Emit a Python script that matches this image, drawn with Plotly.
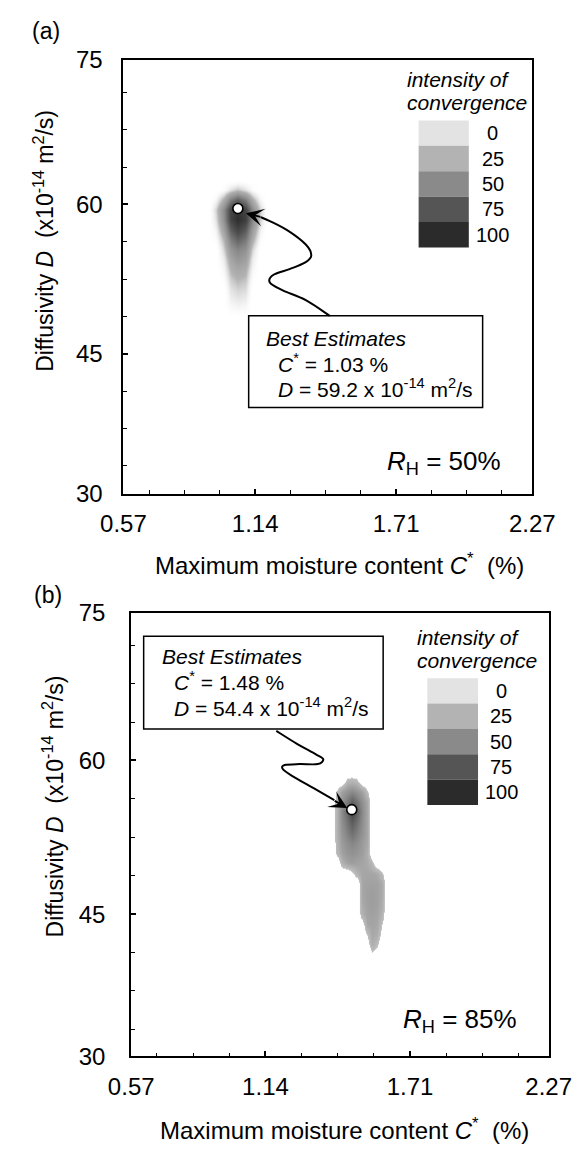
import plotly.graph_objects as go

W, H = 583, 1157
FONT = "Liberation Sans, Arial, sans-serif"

# ------------------------------------------------------------------ data
PANEL_LABELS = ["(a)", "(b)"]
HUMIDITY = ["50%", "85%"]
BEST_C = ["1.03", "1.48"]          # annotated best estimates (%)
BEST_D = ["59.2", "54.4"]          # annotated best estimates (x10^-14 m2/s)
MARKER_C = [1.07, 1.48]            # best-estimate point as drawn
MARKER_D = [59.6, 55.2]

X_TICK_TEXT = ["0.57", "1.14", "1.71", "2.27"]
X_TICK_INNER = [1.14, 1.71]
Y_TICK_TEXT = ["30", "45", "60", "75"]
Y_TICK_INNER = [45, 60]

LEGEND_LEVELS = ["0", "25", "50", "75", "100"]
LEGEND_COLORS = ["#e3e3e3", "#b3b3b3", "#8a8a8a", "#555555", "#2b2b2b"]

# intensity of convergence, panel (a) (rows listed top -> bottom)
BLOB_A_C = [0.95, 0.98, 1.01, 1.04, 1.07, 1.10, 1.13, 1.16, 1.19]
BLOB_A_D = [62.5, 61.5, 60.5, 59.5, 58.5, 57.5, 56.5, 55.5, 54.5, 53.5,
            52.5, 51.5, 50.5, 49.5, 48.5]
BLOB_A_Z = [
    [0, 0, 0, 0, 0, 0, 0, 0, 0],
    [0, 0, 5, 15, 22, 15, 5, 0, 0],
    [0, 8, 28, 55, 70, 55, 28, 8, 0],
    [0, 18, 48, 85, 95, 85, 48, 18, 0],
    [0, 15, 45, 85, 98, 88, 50, 18, 0],
    [0, 10, 35, 70, 85, 72, 38, 10, 0],
    [0, 5, 25, 55, 68, 58, 28, 5, 0],
    [0, 0, 18, 42, 52, 45, 18, 0, 0],
    [0, 0, 12, 33, 42, 36, 12, 0, 0],
    [0, 0, 8, 26, 32, 28, 8, 0, 0],
    [0, 0, 4, 20, 25, 22, 4, 0, 0],
    [0, 0, 0, 15, 19, 17, 0, 0, 0],
    [0, 0, 0, 11, 14, 12, 0, 0, 0],
    [0, 0, 0, 6, 8, 7, 0, 0, 0],
    [0, 0, 0, 0, 0, 0, 0, 0, 0],
]

# intensity of convergence, panel (b) (rows listed top -> bottom)
BLOB_B_C = [1.40, 1.42, 1.44, 1.46, 1.48, 1.50, 1.52, 1.54, 1.56, 1.58,
            1.60, 1.62, 1.64]
BLOB_B_D = [59, 58, 57, 56, 55, 54, 53, 52, 51, 50, 49, 48, 47, 46, 45,
            44, 43, 42, 41, 40]
BLOB_B_Z = [
    [0, 0, 0, 0, 0, 0, 0, 0, 0, 0, 0, 0, 0],
    [0, 0, 0, 20, 22, 18, 0, 0, 0, 0, 0, 0, 0],
    [0, 18, 36, 44, 50, 44, 36, 18, 0, 0, 0, 0, 0],
    [0, 25, 46, 58, 70, 60, 46, 32, 0, 0, 0, 0, 0],
    [0, 26, 50, 66, 85, 70, 50, 33, 0, 0, 0, 0, 0],
    [0, 26, 48, 60, 72, 62, 48, 33, 0, 0, 0, 0, 0],
    [0, 26, 44, 54, 62, 55, 45, 33, 0, 0, 0, 0, 0],
    [0, 25, 40, 47, 52, 48, 40, 32, 0, 0, 0, 0, 0],
    [0, 22, 36, 42, 45, 42, 38, 28, 0, 0, 0, 0, 0],
    [0, 0, 26, 35, 38, 36, 34, 30, 20, 0, 0, 0, 0],
    [0, 0, 0, 0, 10, 25, 32, 33, 33, 30, 18, 0, 0],
    [0, 0, 0, 0, 0, 0, 32, 35, 36, 35, 30, 0, 0],
    [0, 0, 0, 0, 0, 0, 32, 36, 38, 36, 30, 0, 0],
    [0, 0, 0, 0, 0, 0, 30, 36, 38, 36, 28, 0, 0],
    [0, 0, 0, 0, 0, 0, 25, 34, 36, 34, 24, 0, 0],
    [0, 0, 0, 0, 0, 0, 5, 32, 34, 32, 15, 0, 0],
    [0, 0, 0, 0, 0, 0, 0, 16, 32, 28, 8, 0, 0],
    [0, 0, 0, 0, 0, 0, 0, 5, 28, 18, 0, 0, 0],
    [0, 0, 0, 0, 0, 0, 0, 0, 10, 6, 0, 0, 0],
    [0, 0, 0, 0, 0, 0, 0, 0, 0, 0, 0, 0, 0],
]

# ------------------------------------------------------------------ layout helpers
def px(x):
    return x / W


def py(y):
    return 1 - y / H


# plot boxes in pixels: left, right, top, bottom
BOX = [(109, 553, 47, 491), (117.5, 570.7, 613, 1067)]
X_RANGE = [[0.607, 2.261], [0.611, 2.256]]
Y_RANGE = [[30.98, 74.51], [31.14, 74.43]]

CS_SOFT = [[0, "rgba(255,255,255,0)"], [0.25, "#b3b3b3"], [0.5, "#8a8a8a"],
           [0.75, "#555555"], [1, "#2b2b2b"]]
CS_HARD = [[0, "rgba(255,255,255,0)"], [0.15, "rgba(255,255,255,0)"],
           [0.1501, "#c0c0c0"], [0.25, "#b3b3b3"], [0.5, "#8a8a8a"],
           [0.75, "#555555"], [1, "#2b2b2b"]]

fig = go.Figure()

blobs = [(BLOB_A_C, BLOB_A_D, BLOB_A_Z, CS_SOFT), (BLOB_B_C, BLOB_B_D, BLOB_B_Z, CS_HARD)]
for i, (bc, bd, bz, cs) in enumerate(blobs):
    ax = "x" if i == 0 else "x2"
    ay = "y" if i == 0 else "y2"
    fig.add_trace(go.Heatmap(
        x=bc, y=bd[::-1], z=bz[::-1], zmin=0, zmax=100, zsmooth="best",
        colorscale=cs, showscale=False, hoverinfo="skip", xaxis=ax, yaxis=ay))
    fig.add_trace(go.Scatter(
        x=[MARKER_C[i]], y=[MARKER_D[i]], mode="markers", xaxis=ax, yaxis=ay,
        marker=dict(size=10, color="white", line=dict(color="black", width=1.6)),
        hoverinfo="skip", showlegend=False))


def axis_common():
    return dict(showline=True, linecolor="black", linewidth=2, mirror=True,
                ticks="inside", ticklen=5, tickwidth=1.5, tickcolor="black",
                showgrid=False, zeroline=False,
                tickfont=dict(family=FONT, size=24, color="black"),
                tickmode="array")


layout_axes = {}
for i in range(2):
    l, r, t, b = BOX[i]
    xr, yr = X_RANGE[i], Y_RANGE[i]
    xminor = [X_TICK_INNER[0] + k * 0.1425 for k in range(-3, 8) if k % 4 != 0]
    yminor = [Y_TICK_INNER[0] + k * 3.75 for k in range(-3, 8) if k % 4 != 0]
    xa = axis_common()
    xa.update(domain=[px(l), px(r)], range=xr,
              tickvals=[xr[0]] + X_TICK_INNER + [xr[1]], ticktext=X_TICK_TEXT,
              minor=dict(ticks="inside", ticklen=3.5, tickwidth=1.2, tickcolor="black",
                         tickmode="array", tickvals=xminor),
              anchor="y" if i == 0 else "y2", ticklabelstandoff=8)
    ya = axis_common()
    ya.update(domain=[py(b), py(t)], range=yr,
              tickvals=[yr[0]] + Y_TICK_INNER + [yr[1]], ticktext=Y_TICK_TEXT,
              minor=dict(ticks="inside", ticklen=3.5, tickwidth=1.2, tickcolor="black",
                         tickmode="array", tickvals=yminor),
              anchor="x" if i == 0 else "x2",
              ticklabelstandoff=14 if i == 0 else 19)
    layout_axes["xaxis" if i == 0 else "xaxis2"] = xa
    layout_axes["yaxis" if i == 0 else "yaxis2"] = ya

annotations = []
shapes = []


def ann(text, x, y, size, xanchor="center", yanchor="middle", angle=0):
    annotations.append(dict(text=text, x=px(x), y=py(y), xref="paper", yref="paper",
                            showarrow=False, xanchor=xanchor, yanchor=yanchor,
                            textangle=angle,
                            font=dict(family=FONT, size=size, color="black")))


# per-panel text positions (pixels)
POS = [
    dict(lab=(25, 17), ytitle=(22, 232), xtitle=(344, 563), rh=(521, 459),
         legt=(415, 67, 91), legx=(429.5, 484, 109), legl=510,
         box=(245, 309, 499, 403), bt=(262, 332), bl=(275, 357, 383),
         arrow=[(333, 309), (307, 293), (282, 283), (268, 275), (272, 267),
                (290, 261), (307, 254), (313, 247), (307, 236), (288, 222),
                (268, 212), (258, 208)],
         tip=(242, 204)),
    dict(lab=(27, 595), ytitle=(33, 811), xtitle=(349, 1142), rh=(539, 1031),
         legt=(426, 638, 662), legx=(439, 494, 680), legl=519,
         box=(131, 637, 391, 732), bt=(149, 658), bl=(162, 683, 710),
         arrow=[(275, 734), (297, 747), (318, 758), (326, 763), (320, 768),
                (300, 768), (284, 769), (282, 773), (292, 780), (316, 793),
                (338, 805)],
         tip=(352, 813)),
]


def smooth_path(pts):
    P = [(px(x), py(y)) for x, y in pts]
    d = "M%.5f,%.5f" % P[0]
    n = len(P)
    for k in range(n - 1):
        p0 = P[k - 1] if k > 0 else P[k]
        p1, p2 = P[k], P[k + 1]
        p3 = P[k + 2] if k + 2 < n else P[k + 1]
        c1 = (p1[0] + (p2[0] - p0[0]) / 6, p1[1] + (p2[1] - p0[1]) / 6)
        c2 = (p2[0] - (p3[0] - p1[0]) / 6, p2[1] - (p3[1] - p1[1]) / 6)
        d += " C%.5f,%.5f %.5f,%.5f %.5f,%.5f" % (c1 + c2 + p2)
    return d


for i in range(2):
    p = POS[i]
    ann(PANEL_LABELS[i], *p["lab"], 23)
    ann("Diffusivity <i>D</i>&nbsp;&nbsp;(x10<sup>-14</sup> m<sup>2</sup>/s)",
        *p["ytitle"], 23, angle=-90)
    ann("Maximum moisture content <i>C</i><sup>*</sup>&nbsp;&nbsp;(%)", *p["xtitle"], 24)
    ann("<i>R</i><sub>H</sub> = " + HUMIDITY[i], p["rh"][0], p["rh"][1], 26, xanchor="right")
    # legend
    lx, ly1, ly2 = p["legt"]
    ann("<i>intensity of</i>", lx, ly1, 21, xanchor="left")
    ann("<i>convergence</i>", lx, ly2, 21, xanchor="left")
    bx0, bx1, by0 = p["legx"]
    for k, (lev, col) in enumerate(zip(LEGEND_LEVELS, LEGEND_COLORS)):
        y0 = by0 + 26 * k
        shapes.append(dict(type="rect", xref="paper", yref="paper",
                           x0=px(bx0), x1=px(bx1), y0=py(y0), y1=py(y0 + 26),
                           fillcolor=col, line=dict(width=0), layer="above"))
        ann(lev, p["legl"], y0 + 13, 20)
    # best estimates box
    x0, y0, x1, y1 = p["box"]
    shapes.append(dict(type="rect", xref="paper", yref="paper",
                       x0=px(x0), x1=px(x1), y0=py(y0), y1=py(y1),
                       fillcolor="white", line=dict(color="black", width=1.5), layer="above"))
    ann("<i>Best Estimates</i>", p["bt"][0], p["bt"][1], 21, xanchor="left")
    ann("<i>C</i><sup>*</sup> = " + BEST_C[i] + " %", p["bl"][0], p["bl"][1], 21, xanchor="left")
    ann("<i>D</i> = " + BEST_D[i] + " x 10<sup>-14</sup> m<sup>2</sup>/s",
        p["bl"][0], p["bl"][2], 21, xanchor="left")
    # curved arrow
    shapes.append(dict(type="path", xref="paper", yref="paper",
                       path=smooth_path(p["arrow"]),
                       line=dict(color="black", width=2), layer="above"))
    tail = p["arrow"][-1]
    tip = p["tip"]
    annotations.append(dict(text="", x=px(tip[0]), y=py(tip[1]), xref="paper", yref="paper",
                            showarrow=True, ax=tail[0] - tip[0], ay=tail[1] - tip[1],
                            arrowhead=3, arrowsize=1.5, arrowwidth=2, arrowcolor="black"))

fig.update_layout(
    width=W, height=H, margin=dict(l=0, r=0, t=0, b=0),
    paper_bgcolor="white", plot_bgcolor="white", showlegend=False,
    annotations=annotations, shapes=shapes, **layout_axes)

fig.write_html("out.html")
